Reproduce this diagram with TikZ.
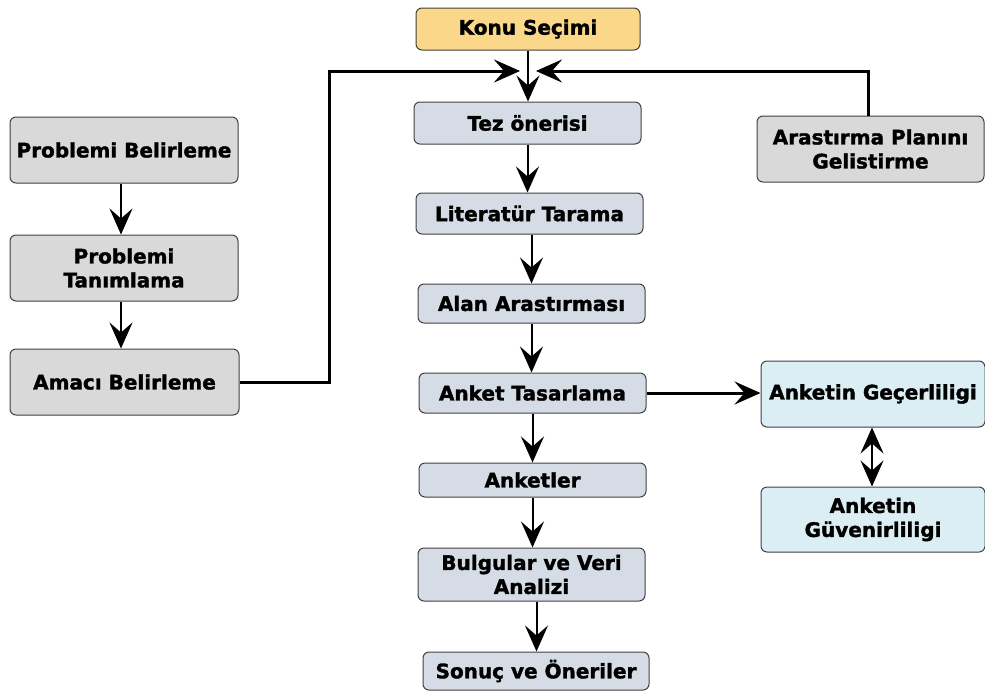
\documentclass[tikz,border=0pt]{standalone}
\usepackage{fontspec}
\setmainfont{DejaVu Sans}[BoldFont={DejaVu Sans Bold},BoldFeatures={FakeBold=1.6}]
\usetikzlibrary{arrows.meta,calc}
\definecolor{konuc}{HTML}{FBD78A}
\definecolor{bluec}{HTML}{D6DCE5}
\definecolor{grayc}{HTML}{D9D9D9}
\definecolor{cyanc}{HTML}{DAEEF3}
\definecolor{edgec}{HTML}{404040}
\tikzset{
  box/.style={draw=edgec, line width=1pt, rounded corners=6pt, align=center, inner sep=0pt,
    font=\fontsize{20}{24}\selectfont\bfseries, text=black},
  tip/.style={-{Stealth[length=26pt,width=23pt,inset=10pt]}},
  arr/.style={tip, line width=2pt},
  fb/.style={line width=3pt},
}
\begin{document}
\begin{tikzpicture}[x=1pt,y=-1pt]
\useasboundingbox (0,0) rectangle (985,691);
% centre column
\node[box, fill=konuc, minimum width=224pt, minimum height=42pt] (konu) at (528,29) {Konu Seçimi};
\node[box, fill=bluec, minimum width=227pt, minimum height=42pt] (tez) at (527.5,123) {Tez önerisi};
\node[box, fill=bluec, minimum width=227pt, minimum height=41pt] (lit) at (529.5,213.5) {Literatür Tarama};
\node[box, fill=bluec, minimum width=227pt, minimum height=39pt] (alan) at (531.5,303.5) {Alan Arastırması};
\node[box, fill=bluec, minimum width=227pt, minimum height=40pt] (anket) at (532.5,393) {Anket Tasarlama};
\node[box, fill=bluec, minimum width=227pt, minimum height=34pt] (anketler) at (532.5,480) {Anketler};
\node[box, fill=bluec, minimum width=227pt, minimum height=53pt] (bulgu) at (531.5,574.5) {Bulgular ve Veri\\Analizi};
\node[box, fill=bluec, minimum width=226pt, minimum height=38pt] (sonuc) at (536,671) {Sonuç ve Öneriler};
% left column
\node[box, fill=grayc, minimum width=228pt, minimum height=66pt] (pb) at (124,150) {Problemi Belirleme};
\node[box, fill=grayc, minimum width=228pt, minimum height=66pt] (pt) at (124,268) {Problemi\\Tanımlama};
\node[box, fill=grayc, minimum width=229pt, minimum height=66pt] (ab) at (124.5,382) {Amacı Belirleme};
% right
\node[box, fill=grayc, minimum width=227pt, minimum height=66pt] (plan) at (870.5,149) {Arastırma Planını\\Gelistirme};
\node[box, fill=cyanc, minimum width=224pt, minimum height=66pt] (gec) at (873,394) {Anketin Geçerliligi};
\node[box, fill=cyanc, minimum width=224pt, minimum height=65pt] (guv) at (873,519.5) {Anketin\\Güvenirliligi};
% junction points
\coordinate (jL) at (520,71);
\coordinate (jR) at (536,71);
% arrows
\draw[arr] (konu.south) -- (konu.south |- tez.north);
\draw[arr] (tez.south) -- (tez.south |- lit.north);
\draw[arr] ([xshift=2pt]lit.south) -- ([xshift=2pt]lit.south |- alan.north);
\draw[arr] (alan.south) -- (alan.south |- anket.north);
\draw[arr] (anket.south) -- (anket.south |- anketler.north);
\draw[arr] (anketler.south) -- (anketler.south |- bulgu.north);
\draw[arr] ([xshift=5pt]bulgu.south) -- ([xshift=5pt]bulgu.south |- sonuc.north);
\draw[arr] ([xshift=-3pt]pb.south) -- ([xshift=-3pt]pb.south |- pt.north);
\draw[arr] ([xshift=-3pt]pt.south) -- ([xshift=-3pt]pt.south |- ab.north);
\draw[fb, tip] (ab.east) -| (329,71) -- (jL);
\draw[fb, tip] ([xshift=-2pt]plan.north) |- (jR);
\draw[fb, tip] (anket.east) -- (anket.east -| gec.west);
\draw[line width=2pt, {Stealth[length=26pt,width=23pt,inset=10pt]}-{Stealth[length=26pt,width=23pt,inset=10pt]}] ([xshift=-1pt]gec.south) -- ([xshift=-1pt]gec.south |- guv.north);
\end{tikzpicture}
\end{document}
